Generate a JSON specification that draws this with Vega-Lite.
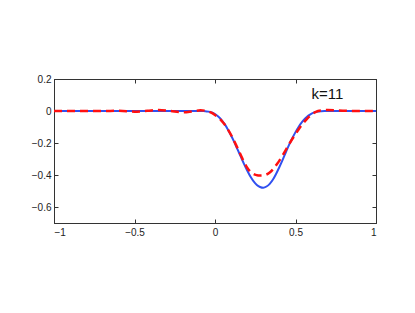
{
  "$schema": "https://vega.github.io/schema/vega-lite/v6.json",
  "width": 322,
  "height": 144,
  "autosize": {"type": "none"},
  "padding": {"left": 54, "top": 79, "right": 39, "bottom": 90},
  "background": "white",
  "config": {
    "view": {"stroke": "#333", "strokeWidth": 1},
    "font": "Liberation Sans",
    "axis": {
      "grid": false,
      "domainColor": "#333",
      "tickColor": "#333",
      "labelColor": "#222",
      "labelFontSize": 10,
      "labelFont": "Liberation Sans",
      "tickSize": -4,
      "format": "~g",
      "title": null
    }
  },
  "datasets": {
    "blue": [
      {"x": -1, "y": 0}, {"x": -0.1, "y": 0}, {"x": -0.08, "y": -0.0005}, {"x": -0.06, "y": -0.001},
      {"x": -0.04, "y": -0.004}, {"x": -0.02, "y": -0.009}, {"x": 0.0, "y": -0.019}, {"x": 0.02, "y": -0.034},
      {"x": 0.04, "y": -0.055}, {"x": 0.06, "y": -0.082}, {"x": 0.08, "y": -0.115}, {"x": 0.1, "y": -0.153},
      {"x": 0.12, "y": -0.195}, {"x": 0.14, "y": -0.24}, {"x": 0.16, "y": -0.285}, {"x": 0.18, "y": -0.33},
      {"x": 0.2, "y": -0.372}, {"x": 0.22, "y": -0.41}, {"x": 0.24, "y": -0.44}, {"x": 0.26, "y": -0.462},
      {"x": 0.28, "y": -0.475}, {"x": 0.3, "y": -0.48}, {"x": 0.32, "y": -0.472}, {"x": 0.34, "y": -0.455},
      {"x": 0.36, "y": -0.428}, {"x": 0.38, "y": -0.392}, {"x": 0.4, "y": -0.35}, {"x": 0.42, "y": -0.305},
      {"x": 0.44, "y": -0.258}, {"x": 0.46, "y": -0.212}, {"x": 0.48, "y": -0.17}, {"x": 0.5, "y": -0.132},
      {"x": 0.52, "y": -0.098}, {"x": 0.54, "y": -0.07}, {"x": 0.56, "y": -0.047}, {"x": 0.58, "y": -0.029},
      {"x": 0.6, "y": -0.016}, {"x": 0.62, "y": -0.008}, {"x": 0.64, "y": -0.003}, {"x": 0.66, "y": -0.001},
      {"x": 0.68, "y": 0}, {"x": 1, "y": 0}
    ],
    "red": [
      {"x": -1, "y": 0}, {"x": -0.7, "y": 0}, {"x": -0.6, "y": 0.001}, {"x": -0.5, "y": -0.004},
      {"x": -0.42, "y": 0.001}, {"x": -0.35, "y": 0.006}, {"x": -0.28, "y": 0.0}, {"x": -0.2, "y": -0.008},
      {"x": -0.14, "y": -0.002}, {"x": -0.09, "y": 0.004}, {"x": -0.05, "y": 0.0}, {"x": -0.02, "y": -0.012},
      {"x": 0.0, "y": -0.025}, {"x": 0.02, "y": -0.04}, {"x": 0.04, "y": -0.06}, {"x": 0.06, "y": -0.085},
      {"x": 0.08, "y": -0.115}, {"x": 0.1, "y": -0.15}, {"x": 0.12, "y": -0.19}, {"x": 0.14, "y": -0.232},
      {"x": 0.16, "y": -0.275}, {"x": 0.18, "y": -0.318}, {"x": 0.2, "y": -0.355}, {"x": 0.22, "y": -0.38},
      {"x": 0.24, "y": -0.395}, {"x": 0.26, "y": -0.401}, {"x": 0.28, "y": -0.403}, {"x": 0.3, "y": -0.402},
      {"x": 0.32, "y": -0.397}, {"x": 0.34, "y": -0.385}, {"x": 0.36, "y": -0.365}, {"x": 0.38, "y": -0.338},
      {"x": 0.4, "y": -0.31}, {"x": 0.42, "y": -0.277}, {"x": 0.44, "y": -0.243}, {"x": 0.46, "y": -0.208},
      {"x": 0.48, "y": -0.175}, {"x": 0.5, "y": -0.144}, {"x": 0.52, "y": -0.114}, {"x": 0.54, "y": -0.086},
      {"x": 0.56, "y": -0.062}, {"x": 0.58, "y": -0.04}, {"x": 0.6, "y": -0.022}, {"x": 0.62, "y": -0.009},
      {"x": 0.64, "y": 0.0}, {"x": 0.66, "y": 0.004}, {"x": 0.7, "y": 0.006}, {"x": 0.76, "y": 0.004},
      {"x": 0.85, "y": 0.0}, {"x": 1, "y": 0}
    ],
    "label": [{"x": 0.6, "y": 0.106, "text": "k=11"}]
  },
  "layer": [
    {
      "data": {"name": "blue"},
      "mark": {"type": "line", "color": "#3050f0", "strokeWidth": 2, "interpolate": "monotone", "clip": true},
      "encoding": {
        "x": {"field": "x", "type": "quantitative", "scale": {"domain": [-1, 1], "nice": false, "zero": false},
              "axis": {"orient": "bottom", "values": [-1, -0.5, 0, 0.5, 1], "labelPadding": 8}},
        "y": {"field": "y", "type": "quantitative", "scale": {"domain": [-0.7, 0.2], "nice": false, "zero": false},
              "axis": {"orient": "left", "values": [-0.6, -0.4, -0.2, 0, 0.2], "labelPadding": 7}}
      }
    },
    {
      "data": {"name": "red"},
      "mark": {"type": "line", "color": "#ff1010", "strokeWidth": 2.5, "strokeDash": [8, 5], "interpolate": "monotone", "clip": true},
      "encoding": {
        "x": {"field": "x", "type": "quantitative",
              "axis": {"orient": "top", "values": [-1, -0.5, 0, 0.5, 1], "labels": false}},
        "y": {"field": "y", "type": "quantitative",
              "axis": {"orient": "right", "values": [-0.6, -0.4, -0.2, 0, 0.2], "labels": false}}
      }
    },
    {
      "data": {"name": "label"},
      "mark": {"type": "text", "align": "left", "baseline": "middle", "fontSize": 15, "font": "Liberation Sans", "color": "#111"},
      "encoding": {
        "x": {"field": "x", "type": "quantitative", "axis": null},
        "y": {"field": "y", "type": "quantitative", "axis": null},
        "text": {"field": "text"}
      }
    }
  ],
  "resolve": {"axis": {"x": "independent", "y": "independent"}}
}
